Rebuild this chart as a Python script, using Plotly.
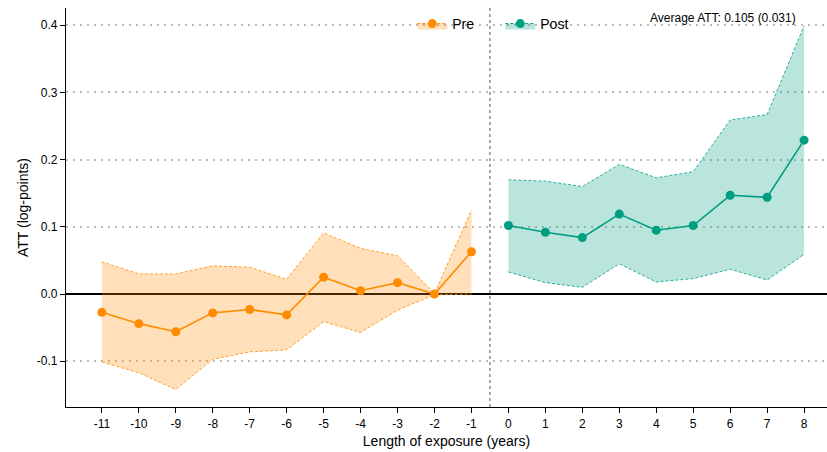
import plotly.graph_objects as go

pre_x = [-11, -10, -9, -8, -7, -6, -5, -4, -3, -2, -1]
pre_att = [-0.027, -0.044, -0.056, -0.028, -0.023, -0.031, 0.025, 0.005, 0.017, 0.0, 0.063]
pre_upper = [0.048, 0.030, 0.030, 0.042, 0.040, 0.022, 0.091, 0.068, 0.057, 0.001, 0.125]
pre_lower = [-0.101, -0.117, -0.142, -0.097, -0.086, -0.083, -0.041, -0.057, -0.024, -0.001, 0.0]

post_x = [0, 1, 2, 3, 4, 5, 6, 7, 8]
post_att = [0.102, 0.092, 0.084, 0.119, 0.095, 0.102, 0.147, 0.144, 0.229]
post_upper = [0.170, 0.168, 0.160, 0.193, 0.173, 0.182, 0.259, 0.267, 0.399]
post_lower = [0.033, 0.017, 0.010, 0.045, 0.018, 0.023, 0.037, 0.021, 0.059]

tick_vals = list(range(-11, 9))
tick_text = [str(v) for v in tick_vals]
y_ticks = [-0.1, 0.0, 0.1, 0.2, 0.3, 0.4]
y_text = ["-0.1", "0.0", "0.1", "0.2", "0.3", "0.4"]

ORANGE = "#FF8C00"
ORANGE_FILL = "rgba(255,140,0,0.27)"
TEAL = "#009E80"
TEAL_FILL = "rgba(0,158,128,0.27)"

fig = go.Figure()

def add_group(x, att, lo, hi, color, fill, name):
    fig.add_trace(go.Scatter(x=x, y=lo, mode="lines", line=dict(color=color, width=0.8, dash="3px,2px"),
                             showlegend=False, hoverinfo="skip"))
    fig.add_trace(go.Scatter(x=x, y=hi, mode="lines", line=dict(color=color, width=0.8, dash="3px,2px"),
                             fill="tonexty", fillcolor=fill, showlegend=False, hoverinfo="skip"))
    fig.add_trace(go.Scatter(x=x, y=att, mode="lines+markers", line=dict(color=color, width=1.6),
                             marker=dict(color=color, size=9), showlegend=False))
    fig.add_trace(go.Scatter(x=[None], y=[None], mode="lines+markers", name=name,
                             fill="toself", fillcolor=fill,
                             line=dict(color=color, width=1, dash="3px,2px"),
                             marker=dict(color=color, size=9)))

add_group(pre_x, pre_att, pre_lower, pre_upper, ORANGE, ORANGE_FILL, "Pre")
add_group(post_x, post_att, post_lower, post_upper, TEAL, TEAL_FILL, "Post")

fig.add_shape(type="line", x0=-0.5, x1=-0.5, y0=0, y1=1, xref="x", yref="paper",
              line=dict(color="#555555", width=1, dash="3px,3px"))

fig.add_annotation(text="Average ATT: 0.105 (0.031)", x=0.962, y=0.975, xref="paper", yref="paper",
                   xanchor="right", yanchor="middle", showarrow=False,
                   font=dict(size=12, color="black"))

fig.update_layout(
    width=827, height=452,
    margin=dict(l=66, r=0, t=8, b=45),
    paper_bgcolor="white", plot_bgcolor="white",
    font=dict(family="Liberation Sans, Arial, sans-serif", color="black"),
    legend=dict(orientation="h", x=0.455, y=1.0, xanchor="left", yanchor="top",
                traceorder="normal", font=dict(size=14), bgcolor="rgba(0,0,0,0)",
                entrywidth=43, entrywidthmode="pixels"),
    xaxis=dict(range=[-11.97, 8.62], tickvals=tick_vals, ticktext=tick_text,
               showgrid=False, zeroline=False, showline=True, linecolor="black", linewidth=1.3,
               ticks="outside", ticklen=5, tickcolor="black", tickfont=dict(size=12),
               title=dict(text="Length of exposure (years)", font=dict(size=14), standoff=6)),
    yaxis=dict(range=[-0.168, 0.4256], tickvals=y_ticks, ticktext=y_text,
               showgrid=True, gridcolor="#BBBBBB", gridwidth=1.5, griddash="2px,5px",
               zeroline=True, zerolinecolor="black", zerolinewidth=1.5,
               showline=True, linecolor="black", linewidth=1.3,
               ticks="outside", ticklen=5, tickcolor="black", tickfont=dict(size=12),
               title=dict(text="ATT (log-points)", font=dict(size=14), standoff=4)),
)

fig.write_html("out.html", config={"displayModeBar": False},
               post_script="document.body.style.margin='0';")
